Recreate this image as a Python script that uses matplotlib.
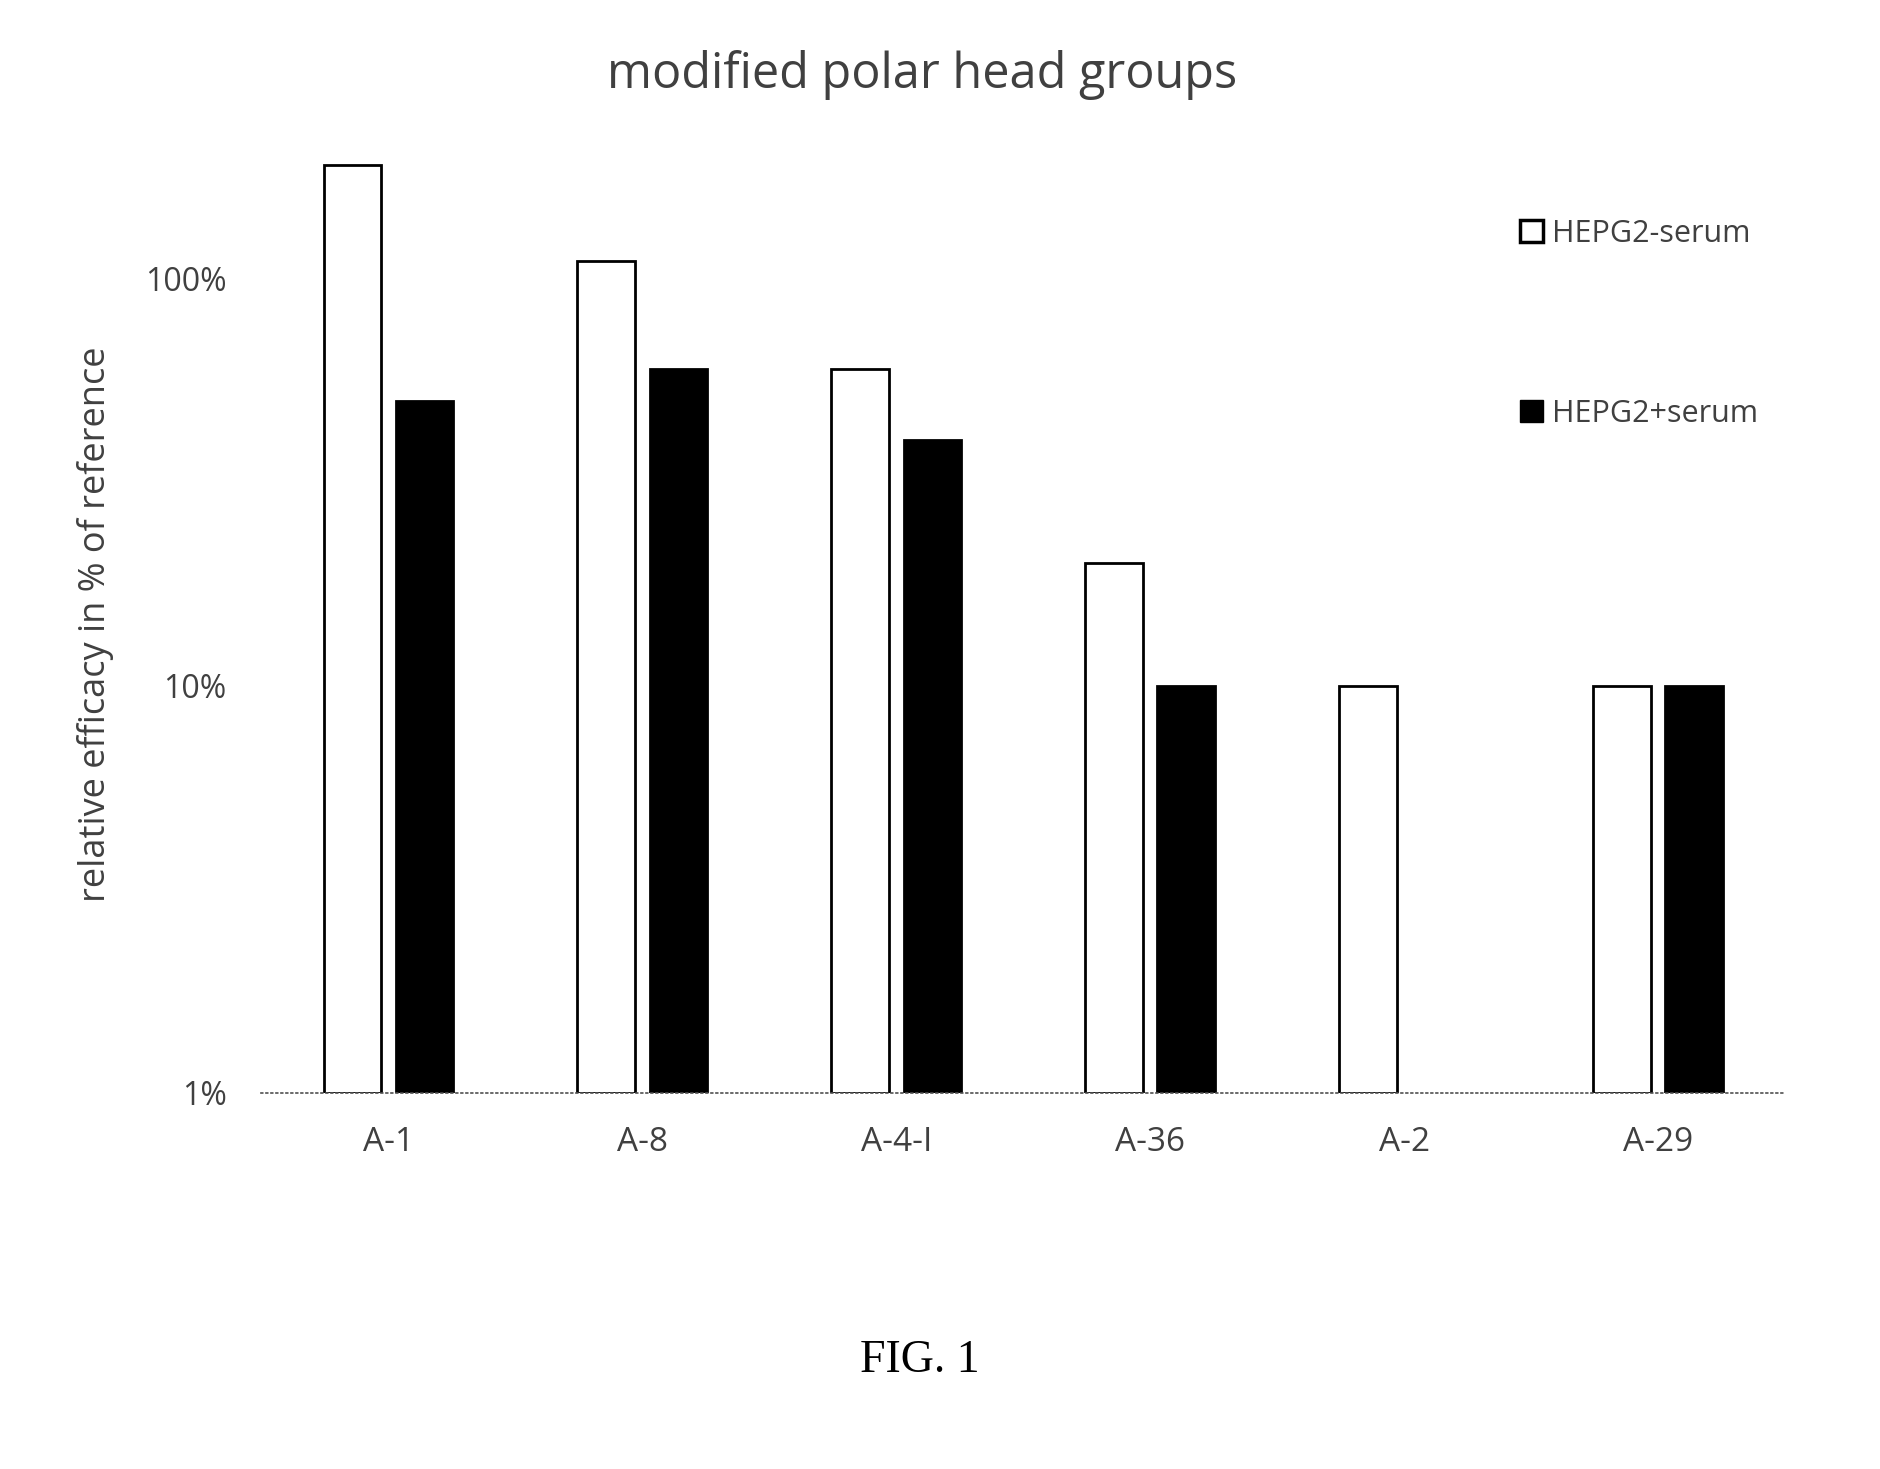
import numpy as np
import matplotlib
matplotlib.use("Agg")
import matplotlib.pyplot as plt
from matplotlib.patches import Patch

# data (percent of reference)
categories = ["A-1", "A-8", "A-4-I", "A-36", "A-2", "A-29"]
minus_serum = [190, 110, 60, 20, 10, 10]
plus_serum = [50, 60, 40, 10, np.nan, 10]
series_labels = ["HEPG2-serum", "HEPG2+serum"]
ytick_vals = [1, 10, 100]
ytick_labels = ["1%", "10%", "100%"]

text_color = "#404040"
plt.rcParams['font.family'] = ['Open Sans', 'DejaVu Sans']

fig = plt.figure(figsize=(18.81, 14.69), dpi=100)
ax = fig.add_axes([0.139, 0.256, 0.810, 0.638])

x = np.arange(len(categories))
w = 0.227
off = 0.142
base = ytick_vals[0]

minus_arr = np.array(minus_serum, dtype=float)
plus_arr = np.array(plus_serum, dtype=float)

ax.bar(x - off, minus_arr - base, bottom=base, width=w,
       facecolor="white", edgecolor="black", linewidth=2.0)
ax.bar(x + off, plus_arr - base, bottom=base, width=w,
       facecolor="black", edgecolor="black", linewidth=2.0)

ax.set_yscale("log")
ax.set_ylim(1, 200)
ax.set_xlim(-0.5, len(categories) - 0.5)

ax.set_yticks(ytick_vals)
ax.set_yticklabels(ytick_labels)
ax.yaxis.set_minor_locator(matplotlib.ticker.NullLocator())
ax.set_xticks(x)
ax.set_xticklabels(categories)
ax.tick_params(axis="y", length=0, labelsize=23, colors=text_color, pad=25)
ax.tick_params(axis="x", length=0, labelsize=24, colors=text_color, pad=24)

for s in ["top", "right", "left"]:
    ax.spines[s].set_visible(False)
ax.spines["bottom"].set_linestyle((0, (1, 2)))
ax.spines["bottom"].set_color("#505050")
ax.spines["bottom"].set_linewidth(1.2)

ax.set_ylabel("relative efficacy in % of reference", fontsize=26,
              color=text_color)
ax.yaxis.set_label_coords(-0.097, 0.50)

fig.text(0.49, 0.949, "modified polar head groups", ha="center", va="center",
         fontsize=35, color=text_color)

handles = [Patch(facecolor="white", edgecolor="black", linewidth=2.5),
           Patch(facecolor="black", edgecolor="black")]
ax.legend(handles, series_labels, loc="upper left",
          bbox_to_anchor=(0.808, 0.962), frameon=False, fontsize=22,
          labelcolor=text_color, handlelength=0.75, handleheight=0.75,
          handletextpad=0.3, labelspacing=4.9)

fig.text(0.489, 0.074, "FIG. 1", ha="center", va="center",
         fontsize=33, family="Liberation Serif", color="black")

fig.savefig("out.png", dpi=100, facecolor="white")
